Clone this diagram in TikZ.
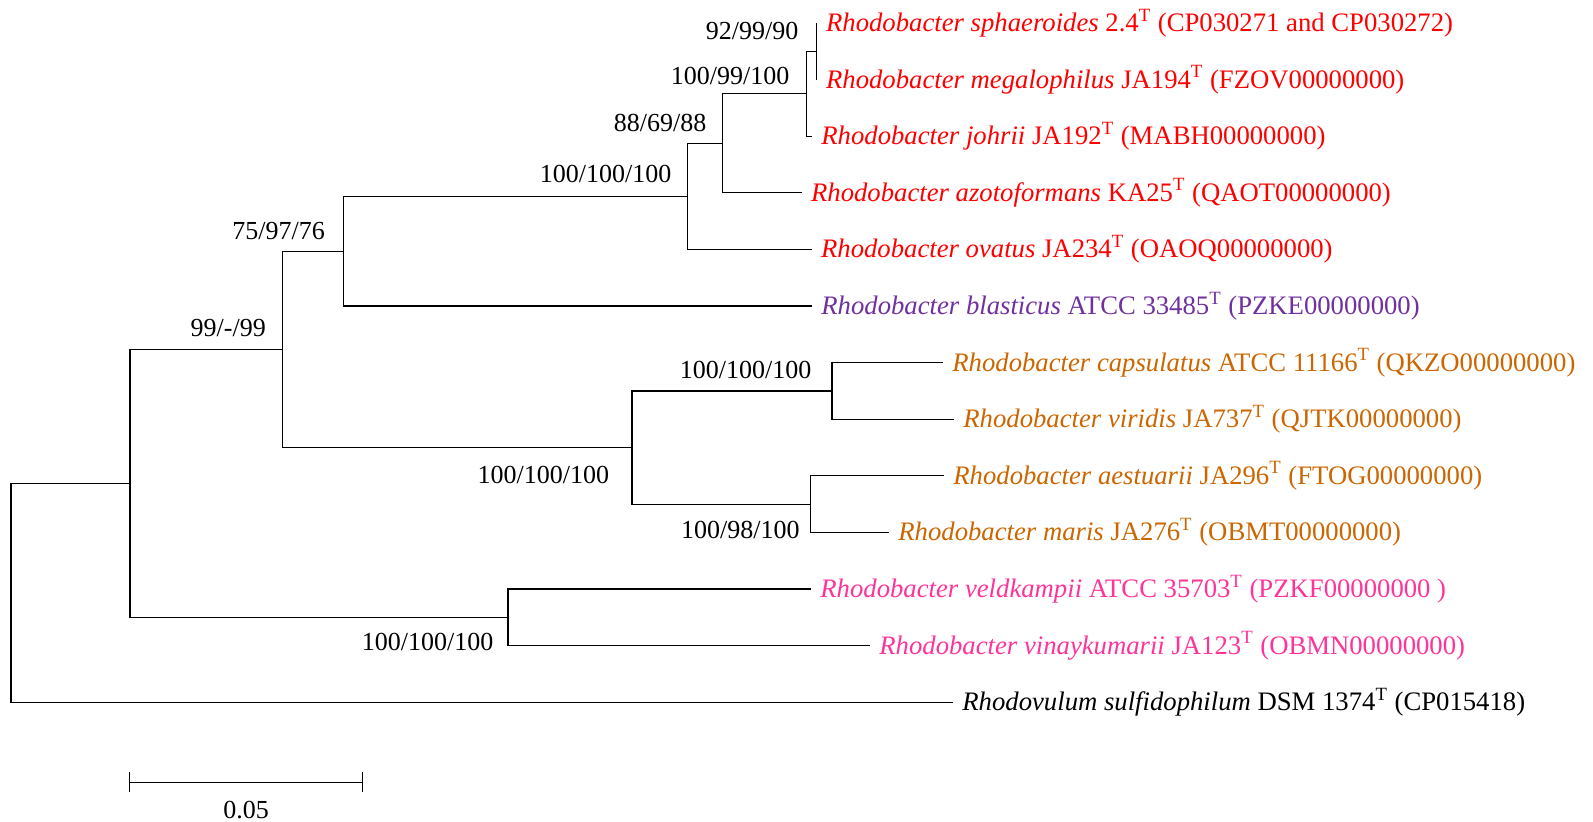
\documentclass[tikz,border=0pt]{standalone}
\usepackage{fontspec}
\setmainfont{Liberation Serif}
\usepackage{xcolor}
\usepackage{tikz}
\usetikzlibrary{arrows.meta}

\definecolor{rbRed}{RGB}{255,0,0}
\definecolor{rbPurple}{RGB}{112,48,160}
\definecolor{rbOrange}{RGB}{204,102,0}
\definecolor{rbPink}{RGB}{255,51,153}

\newcommand{\strain}[3]{\textit{#1} #2\textsuperscript{T} #3}

\begin{document}
\begin{tikzpicture}[x=0.5pt, y=-0.5pt,
        branch/.style={line width=0.6pt},
        boot/.style={font=\fontsize{13}{15}\selectfont, inner sep=0pt, anchor=east},
        leaf/.style={font=\fontsize{13.35}{15}\selectfont, anchor=west, inner xsep=4.5pt, inner ysep=0pt}]

        \useasboundingbox (0, 0) rectangle (1593, 821);

        \node[leaf, text=rbRed] (sph) at (816.7, 23) {\strain{Rhodobacter sphaeroides}{2.4}{(CP030271 and CP030272)}};
        \node[leaf, text=rbRed] (meg) at (816.7, 79.6) {\strain{Rhodobacter megalophilus}{JA194}{(FZOV00000000)}};
        \node[leaf, text=rbRed] (joh) at (812, 136.2) {\strain{Rhodobacter johrii}{JA192}{(MABH00000000)}};
        \node[leaf, text=rbRed] (azo) at (801.7, 192.8) {\strain{Rhodobacter azotoformans}{KA25}{(QAOT00000000)}};
        \node[leaf, text=rbRed] (ova) at (811.7, 249.4) {\strain{Rhodobacter ovatus}{JA234}{(OAOQ00000000)}};
        \node[leaf, text=rbPurple] (bla) at (812, 306) {\strain{Rhodobacter blasticus}{ATCC 33485}{(PZKE00000000)}};
        \node[leaf, text=rbOrange] (cap) at (943, 362.6) {\strain{Rhodobacter capsulatus}{ATCC 11166}{(QKZO00000000)}};
        \node[leaf, text=rbOrange] (vir) at (954, 419.2) {\strain{Rhodobacter viridis}{JA737}{(QJTK00000000)}};
        \node[leaf, text=rbOrange] (aes) at (944, 475.8) {\strain{Rhodobacter aestuarii}{JA296}{(FTOG00000000)}};
        \node[leaf, text=rbOrange] (mar) at (889, 532.4) {\strain{Rhodobacter maris}{JA276}{(OBMT00000000)}};
        \node[leaf, text=rbPink] (vel) at (811, 589) {\strain{Rhodobacter veldkampii}{ATCC 35703}{(PZKF00000000 )}};
        \node[leaf, text=rbPink] (vin) at (870, 645.6) {\strain{Rhodobacter vinaykumarii}{JA123}{(OBMN00000000)}};
        \node[leaf] (sul) at (953, 702.2) {\strain{Rhodovulum sulfidophilum}{DSM 1374}{(CP015418)}};

        \coordinate (n1) at (816.7, 51.3);
        \coordinate (n2) at (806.7, 93.75);
        \coordinate (n3) at (722.7, 143.3);
        \coordinate (n4) at (687.3, 196.3);
        \coordinate (n5) at (343.3, 251.2);
        \coordinate (c1) at (832, 390.9);
        \coordinate (c2) at (810.5, 504.1);
        \coordinate (c3) at (632, 447.5);
        \coordinate (n6) at (282.7, 349.3);
        \coordinate (p1) at (508, 617.3);
        \coordinate (n7) at (130, 483.3);
        \coordinate (root) at (11, 592.8);

        \draw[branch] (n1) |- (sph.west);
        \draw[branch] (n1) |- (meg.west);
        \draw[branch] (n2) |- (n1);
        \draw[branch] (n2) |- (joh.west);
        \draw[branch] (n3) |- (n2);
        \draw[branch] (n3) |- (azo.west);
        \draw[branch] (n4) |- (n3);
        \draw[branch] (n4) |- (ova.west);
        \draw[branch] (n5) |- (n4);
        \draw[branch] (n5) |- (bla.west);

        \draw[branch] (c1) |- (cap.west);
        \draw[branch] (c1) |- (vir.west);
        \draw[branch] (c2) |- (aes.west);
        \draw[branch] (c2) |- (mar.west);
        \draw[branch] (c3) |- (c1);
        \draw[branch] (c3) |- (c2);

        \draw[branch] (n6) |- (n5);
        \draw[branch] (n6) |- (c3);

        \draw[branch] (p1) |- (vel.west);
        \draw[branch] (p1) |- (vin.west);

        \draw[branch] (n7) |- (n6);
        \draw[branch] (n7) |- (p1);

        \draw[branch] (root) |- (n7);
        \draw[branch] (root) |- (sul.west);

        \node[boot] (b1) at ([shift={(-18,-20)}]n1) {92/99/90};
        \node[boot] (b2) at ([shift={(-17,-18)}]n2) {100/99/100};
        \node[boot] (b3) at ([shift={(-16,-20)}]n3) {88/69/88};
        \node[boot] (b4) at ([shift={(-15.6,-22)}]n4) {100/100/100};
        \node[boot] (b5) at ([shift={(-18,-20)}]n5) {75/97/76};
        \node[boot] (b6) at ([shift={(-16.5,-21)}]n6) {99/-/99};
        \node[boot] (b7) at ([shift={(-20.3,-20.5)}]c1) {100/100/100};
        \node[boot] (b8) at ([shift={(-22.5,27)}]c3) {100/100/100};
        \node[boot] (b9) at ([shift={(-10.5,26)}]c2) {100/98/100};
        \node[boot] (b10) at ([shift={(-14.2,25)}]p1) {100/100/100};

        \coordinate (sbl) at (129, 782);
        \coordinate (sbr) at (363, 782);
        \draw[line width=0.5pt, {Bar[width=10pt]}-{Bar[width=10pt]}] (sbl) -- node[font=\fontsize{13}{15}\selectfont, yshift=-14pt] (sbt) {0.05} (sbr);
      \end{tikzpicture}
\end{document}
